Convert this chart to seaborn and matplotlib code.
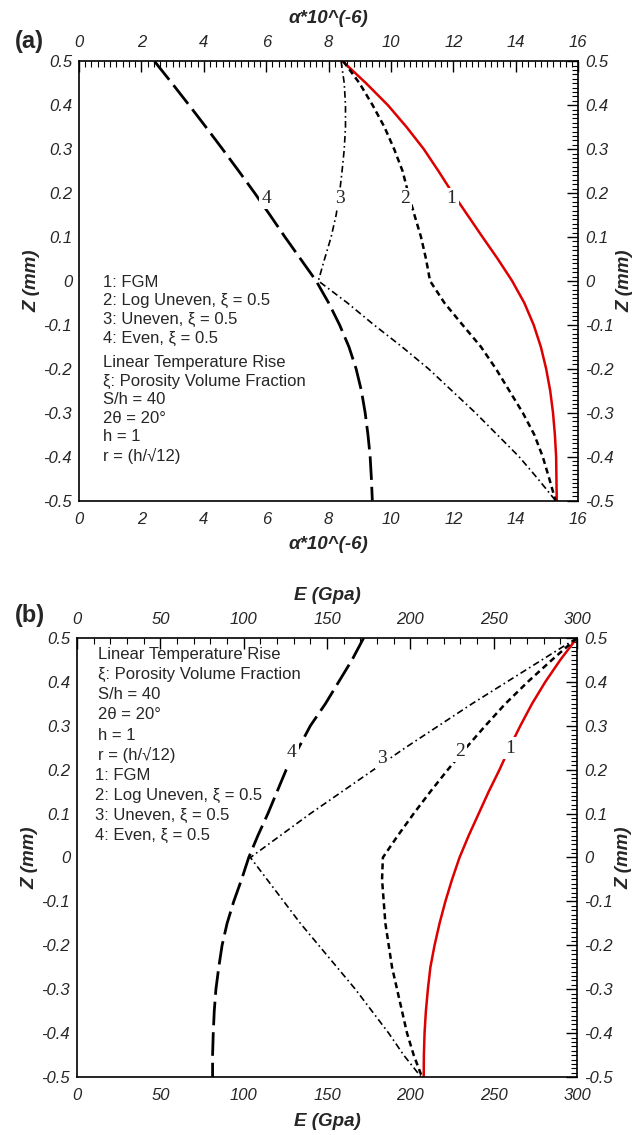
import matplotlib.pyplot as plt
import seaborn as sns
from matplotlib.ticker import FuncFormatter, MultipleLocator

# through-thickness coordinate, Z (mm), top to bottom
z = [0.5, 0.45, 0.4, 0.35, 0.3, 0.25, 0.2, 0.15, 0.1, 0.05, 0.0,
     -0.05, -0.1, -0.15, -0.2, -0.25, -0.3, -0.35, -0.4, -0.45, -0.5]

# (a) thermal expansion coefficient, alpha*10^(-6)
alpha_fgm = [8.45, 9.2, 9.9, 10.5, 11.05, 11.52, 11.97, 12.45, 12.93, 13.42, 13.88,
             14.27, 14.57, 14.8, 14.97, 15.1, 15.19, 15.25, 15.29, 15.3, 15.31]
alpha_log_uneven = [8.47, 8.99, 9.41, 9.79, 10.1, 10.37, 10.55, 10.75, 10.96, 11.12, 11.25,
                    11.71, 12.29, 12.88, 13.36, 13.79, 14.22, 14.59, 14.86, 15.07, 15.27]
alpha_uneven = [8.4, 8.5, 8.54, 8.54, 8.5, 8.43, 8.35, 8.24, 8.08, 7.87, 7.67,
                8.6, 9.45, 10.35, 11.2, 11.95, 12.7, 13.4, 14.1, 14.7, 15.27]
alpha_even = [2.42, 2.98, 3.53, 4.07, 4.6, 5.12, 5.63, 6.12, 6.6, 7.1, 7.6,
              8.0, 8.35, 8.65, 8.88, 9.05, 9.17, 9.26, 9.33, 9.37, 9.4]

# (b) Young's modulus, E (GPa)
E_fgm = [300, 290, 281, 273, 266, 259.5, 253.5, 247, 241, 235, 229.5,
         225, 221, 217.5, 214.5, 212, 210.5, 209.3, 208.5, 208.1, 208]
E_log_uneven = [300, 285, 270.5, 257, 245, 233.5, 222.5, 212, 202, 192.5, 183.5,
                183, 184, 185, 187, 189, 192, 195, 198, 202, 207]
E_uneven = [300, 279, 258, 237, 217, 197, 178, 159, 140, 122, 104,
            114, 124, 134, 145, 156, 167, 177, 187, 196, 206.5]
E_even = [172, 165, 157, 149, 140, 133, 125.5, 120, 114.5, 108.5, 103,
          98.7, 94, 90, 87, 85, 83.3, 82.3, 81.7, 81.3, 81.3]

curve_ids = ["1", "2", "3", "4"]
legend_lines = ["1: FGM", "2: Log Uneven, ξ = 0.5", "3: Uneven, ξ = 0.5", "4: Even, ξ = 0.5"]
info_lines = ["Linear Temperature Rise", "ξ: Porosity Volume Fraction", "S/h = 40",
              "2θ = 20°", "h = 1", "r = (h/√12)"]

styles = {
    "1": dict(color="#dd0000", lw=1.8, ls="-"),
    "2": dict(color="black", lw=1.8, ls=(0, (2.4, 1.6))),
    "3": dict(color="black", lw=1.2, ls=(0, (4, 2, 1, 2))),
    "4": dict(color="black", lw=2.0, ls=(0, (8.5, 2.5))),
}

sns.set_style("white")
plt.rcParams["font.family"] = ["Liberation Sans", "DejaVu Sans"]
plt.rcParams["font.style"] = "italic"
plt.rcParams["axes.linewidth"] = 1.2


def fmt(v, pos):
    v = round(v, 6)
    if v == 0:
        return "0"
    return f"{v:g}"


def style_axes(ax, xmax, xmajor, xminor, xlabel):
    ax.set_xlim(0, xmax)
    ax.set_ylim(-0.5, 0.5)
    ax.xaxis.set_major_locator(MultipleLocator(xmajor))
    ax.xaxis.set_minor_locator(MultipleLocator(xminor))
    ax.yaxis.set_major_locator(MultipleLocator(0.1))
    ax.yaxis.set_minor_locator(MultipleLocator(0.01))
    ax.xaxis.set_major_formatter(FuncFormatter(fmt))
    ax.yaxis.set_major_formatter(FuncFormatter(fmt))
    ax.tick_params(which="both", direction="in", top=True, right=True,
                   labeltop=True, labelright=True, labelsize=12, width=1, color="black")
    ax.tick_params(which="major", length=8)
    ax.tick_params(which="minor", length=4, width=0.8)
    ax.tick_params(axis="x", pad=8)
    ax.tick_params(axis="y", pad=5)
    ax.set_xlabel("")
    ax.set_ylabel("")
    for s in ax.spines.values():
        s.set_color("black")
    lab = dict(transform=ax.transAxes, ha="center", va="center",
               fontsize=13.5, fontweight="bold")
    ax.text(0.5, 1.097, xlabel, **lab)
    ax.text(0.5, -0.1, xlabel, **lab)
    ax.text(-0.095, 0.5, "Z (mm)", rotation=90, **lab)
    ax.text(1.094, 0.5, "Z (mm)", rotation=90, **lab)


def draw_curves(ax, xs_list):
    for cid, xs in zip(curve_ids, xs_list):
        sns.lineplot(x=xs, y=z, sort=False, estimator=None, ax=ax, **styles[cid])


def curve_labels(ax, xs, ys):
    for cid, x, y in zip(curve_ids, xs, ys):
        ax.text(x, y, cid, family=["Liberation Serif", "DejaVu Serif"], style="normal",
                fontsize=14, ha="center", va="center", zorder=5,
                bbox=dict(fc="white", ec="none", pad=1.5))


def text_block(ax, x, y0, step, lines):
    for i, line in enumerate(lines):
        ax.text(x, y0 - i * step, line, ha="left", va="center", fontsize=12, style="normal")


fig = plt.figure(figsize=(6.32, 11.35), dpi=100)
ax_a = fig.add_axes([0.125, 0.559, 0.790, 0.387])
ax_b = fig.add_axes([0.122, 0.051, 0.791, 0.387])

# -- (a) alpha
draw_curves(ax_a, [alpha_fgm, alpha_log_uneven, alpha_uneven, alpha_even])
style_axes(ax_a, 16, 2, 0.2, "α*10^(-6)")
curve_labels(ax_a, [11.94, 10.46, 8.35, 6.0], [0.188, 0.188, 0.188, 0.188])
text_block(ax_a, 0.77, -0.003, 0.0423, legend_lines)
text_block(ax_a, 0.77, -0.186, 0.0423, info_lines)

# -- (b) E
draw_curves(ax_b, [E_fgm, E_log_uneven, E_uneven, E_even])
style_axes(ax_b, 300, 50, 10, "E (Gpa)")
curve_labels(ax_b, [259.6, 229.9, 182.9, 128.8], [0.249, 0.241, 0.226, 0.238])
text_block(ax_b, 12.6, 0.462, 0.0458, info_lines)
text_block(ax_b, 11.0, 0.462 - 6 * 0.0458, 0.0458, legend_lines)

fig.text(0.047, 0.963, "(a)", fontsize=17, fontweight="bold", style="normal",
         ha="center", va="center")
fig.text(0.047, 0.458, "(b)", fontsize=17, fontweight="bold", style="normal",
         ha="center", va="center")

fig.savefig("out.png", dpi=100)
